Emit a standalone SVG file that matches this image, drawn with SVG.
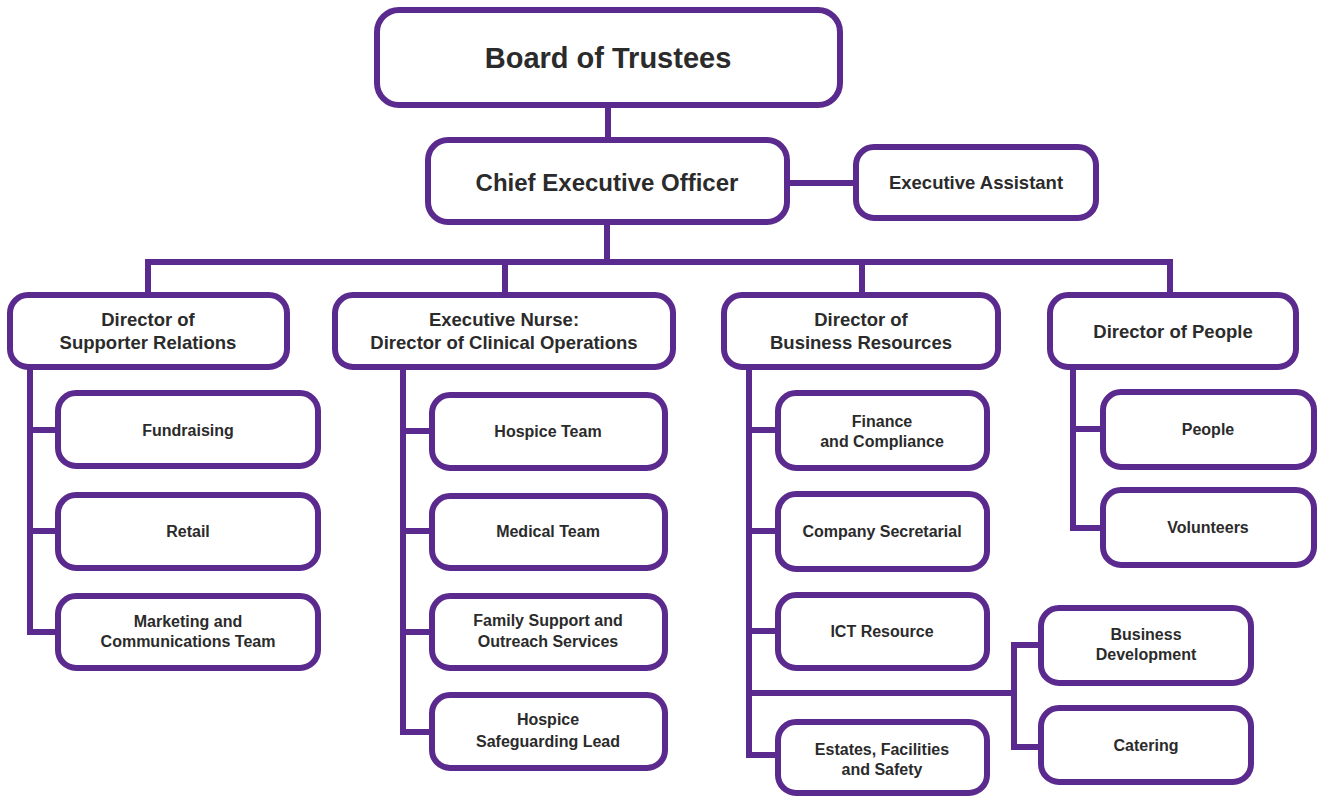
<svg xmlns="http://www.w3.org/2000/svg" width="1319" height="796" viewBox="0 0 1319 796">
<style>
.b{fill:#fff;stroke:#5b2a8e;stroke-width:6}
.c{fill:none;stroke:#5b2a8e;stroke-width:6;stroke-linejoin:miter}
text{font-family:"Liberation Sans",Arial,sans-serif;font-weight:bold;fill:#2b2b2b;text-anchor:middle}
.t0{font-size:29px}
.t1{font-size:24px}
.t2{font-size:18.5px}
.t3{font-size:16px}
</style>
<rect width="1319" height="796" fill="#fff"/>
<g id="connectors">
<path class="c" d="M608 105V140"/>
<path class="c" d="M787 183H856"/>
<path class="c" d="M607 222V262M148 295V262H1170V295M505 262V295M862 262V295"/>
<path class="c" d="M30 367V632H58M30 430H58M30 531H58"/>
<path class="c" d="M403 367V732H432M403 431H432M403 531H432M403 632H432"/>
<path class="c" d="M749 367V755H778M749 430H778M749 531H778M749 631H778M749 693H1014"/>
<path class="c" d="M1041 645H1014V747H1041"/>
<path class="c" d="M1073 367V528H1103M1073 429H1103"/>
</g>
<g id="board"><rect class="b" x="377" y="10" width="463" height="95" rx="22"/><text class="t0" x="608" y="68">Board of Trustees</text></g>
<g id="ceo"><rect class="b" x="428" y="140" width="359" height="82" rx="20"/><text class="t1" x="607" y="191">Chief Executive Officer</text></g>
<g id="ea"><rect class="b" x="856" y="147" width="240" height="71" rx="18"/><text class="t2" x="976" y="189">Executive Assistant</text></g>
<g id="dir-sr"><rect class="b" x="10" y="295" width="277" height="72" rx="18"/><text class="t2" x="148" y="326">Director of</text><text class="t2" x="148" y="349">Supporter Relations</text></g>
<g id="dir-co"><rect class="b" x="335" y="295" width="338" height="72" rx="18"/><text class="t2" x="504" y="326">Executive Nurse:</text><text class="t2" x="504" y="349">Director of Clinical Operations</text></g>
<g id="dir-br"><rect class="b" x="724" y="295" width="274" height="72" rx="18"/><text class="t2" x="861" y="326">Director of</text><text class="t2" x="861" y="349">Business Resources</text></g>
<g id="dir-people"><rect class="b" x="1050" y="295" width="246" height="72" rx="18"/><text class="t2" x="1173" y="338">Director of People</text></g>
<g id="fundraising"><rect class="b" x="58" y="393" width="260" height="73" rx="18"/><text class="t3" x="188" y="436">Fundraising</text></g>
<g id="retail"><rect class="b" x="58" y="495" width="260" height="73" rx="18"/><text class="t3" x="188" y="537">Retail</text></g>
<g id="marketing"><rect class="b" x="58" y="596" width="260" height="72" rx="18"/><text class="t3" x="188" y="627">Marketing and</text><text class="t3" x="188" y="647">Communications Team</text></g>
<g id="hospice-team"><rect class="b" x="432" y="395" width="233" height="73" rx="18"/><text class="t3" x="548" y="437">Hospice Team</text></g>
<g id="medical-team"><rect class="b" x="432" y="496" width="233" height="72" rx="18"/><text class="t3" x="548" y="537">Medical Team</text></g>
<g id="family-support"><rect class="b" x="432" y="596" width="233" height="72" rx="18"/><text class="t3" x="548" y="626">Family Support and</text><text class="t3" x="548" y="647">Outreach Services</text></g>
<g id="safeguarding"><rect class="b" x="432" y="695" width="233" height="73" rx="18"/><text class="t3" x="548" y="725">Hospice</text><text class="t3" x="548" y="747">Safeguarding Lead</text></g>
<g id="finance"><rect class="b" x="778" y="393" width="209" height="75" rx="18"/><text class="t3" x="882" y="427">Finance</text><text class="t3" x="882" y="447">and Compliance</text></g>
<g id="company-sec"><rect class="b" x="778" y="494" width="209" height="75" rx="18"/><text class="t3" x="882" y="537">Company Secretarial</text></g>
<g id="ict"><rect class="b" x="778" y="595" width="209" height="73" rx="18"/><text class="t3" x="882" y="637">ICT Resource</text></g>
<g id="estates"><rect class="b" x="778" y="722" width="209" height="71" rx="18"/><text class="t3" x="882" y="755">Estates, Facilities</text><text class="t3" x="882" y="775">and Safety</text></g>
<g id="business-dev"><rect class="b" x="1041" y="608" width="210" height="75" rx="18"/><text class="t3" x="1146" y="640">Business</text><text class="t3" x="1146" y="660">Development</text></g>
<g id="catering"><rect class="b" x="1041" y="708" width="210" height="74" rx="18"/><text class="t3" x="1146" y="751">Catering</text></g>
<g id="people"><rect class="b" x="1103" y="392" width="211" height="75" rx="18"/><text class="t3" x="1208" y="435">People</text></g>
<g id="volunteers"><rect class="b" x="1103" y="490" width="211" height="75" rx="18"/><text class="t3" x="1208" y="533">Volunteers</text></g>
</svg>
